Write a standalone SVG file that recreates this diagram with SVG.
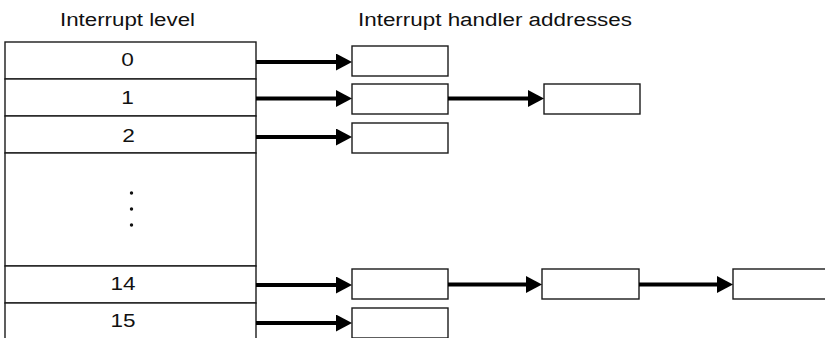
<svg xmlns="http://www.w3.org/2000/svg" width="825" height="338" viewBox="0 0 825 338">
<style>
.box{fill:#fff;stroke:#1a1a1a;stroke-width:1.4}
.t{font-family:"Liberation Sans",Arial,sans-serif;fill:#111;font-size:18px}
.n{font-family:"Liberation Sans",Arial,sans-serif;fill:#111;font-size:19px;text-anchor:middle}
.c{stroke:#000;stroke-width:4;fill:none;marker-end:url(#ah)}
</style>
<defs>
<marker id="ah" markerUnits="userSpaceOnUse" markerWidth="17" markerHeight="18" refX="0" refY="8.5" orient="auto" viewBox="0 0 17 18">
<path d="M0,0 L16,8.5 L0,17 z" fill="#000"/>
</marker>
</defs>
<rect width="825" height="338" fill="#fff"/>
<g id="titles">
<text class="t" x="60" y="26" textLength="135" lengthAdjust="spacingAndGlyphs">Interrupt level</text>
<text class="t" x="358" y="26" textLength="274" lengthAdjust="spacingAndGlyphs">Interrupt handler addresses</text>
</g>
<g id="level0"><rect class="box" x="5" y="42" width="251" height="37"/><text class="n" x="127.5" y="66" textLength="12.6" lengthAdjust="spacingAndGlyphs">0</text></g>
<g id="level1"><rect class="box" x="5" y="79" width="251" height="37"/><text class="n" x="127.5" y="104" textLength="12.6" lengthAdjust="spacingAndGlyphs">1</text></g>
<g id="level2"><rect class="box" x="5" y="116" width="251" height="37"/><text class="n" x="128.5" y="142" textLength="12.6" lengthAdjust="spacingAndGlyphs">2</text></g>
<g id="levelDots"><rect class="box" x="5" y="153" width="251" height="113"/>
<circle cx="131.5" cy="193" r="1.7" fill="#111"/><circle cx="131.5" cy="209" r="1.7" fill="#111"/><circle cx="131.5" cy="225" r="1.7" fill="#111"/></g>
<g id="level14"><rect class="box" x="5" y="266" width="251" height="37"/><text class="n" x="123" y="290" textLength="25" lengthAdjust="spacingAndGlyphs">14</text></g>
<g id="level15"><rect class="box" x="5" y="303" width="251" height="40"/><text class="n" x="123" y="327" textLength="25" lengthAdjust="spacingAndGlyphs">15</text></g>
<g id="h0"><rect class="box" x="352" y="46" width="96" height="30"/></g>
<g id="h1"><rect class="box" x="352" y="84" width="96" height="30"/></g>
<g id="h1b"><rect class="box" x="544" y="84" width="96" height="30"/></g>
<g id="h2"><rect class="box" x="352" y="123" width="96" height="30"/></g>
<g id="h14"><rect class="box" x="352" y="269" width="96" height="30"/></g>
<g id="h14b"><rect class="box" x="542" y="269" width="97" height="30"/></g>
<g id="h14c"><rect class="box" x="733" y="269" width="100" height="30"/></g>
<g id="h15"><rect class="box" x="352" y="308" width="96" height="30"/></g>
<g id="connectors">
<line class="c" x1="256" y1="62" x2="336" y2="62"/>
<line class="c" x1="256" y1="98.5" x2="336" y2="98.5"/>
<line class="c" x1="256" y1="137" x2="336" y2="137"/>
<line class="c" x1="256" y1="285" x2="336" y2="285"/>
<line class="c" x1="256" y1="323" x2="336" y2="323"/>
<line class="c" x1="448" y1="98.5" x2="528" y2="98.5"/>
<line class="c" x1="448" y1="284.5" x2="526" y2="284.5"/>
<line class="c" x1="639" y1="284.5" x2="717" y2="284.5"/>
</g>
</svg>
